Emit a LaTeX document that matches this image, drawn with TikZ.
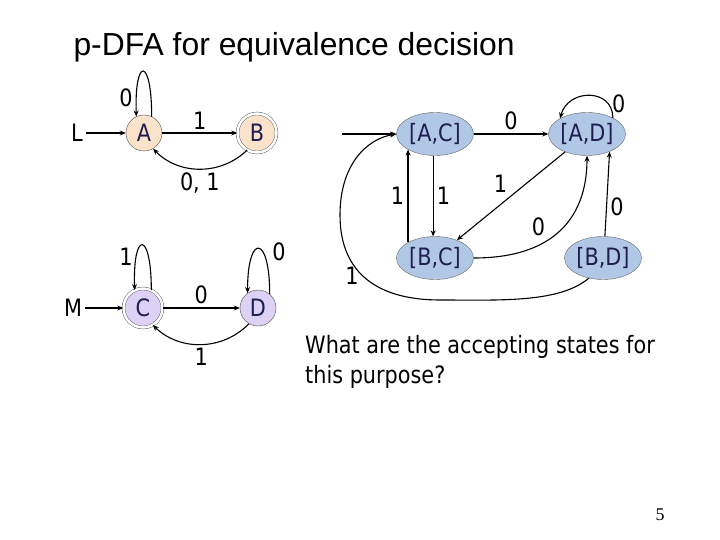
\documentclass[tikz,border=0pt]{standalone}
\usepackage{fontspec}
\setmainfont{DejaVu Sans}[FakeStretch=0.87]
\newfontfamily\titlefont{Liberation Sans}
\newfontfamily\pagefont{Liberation Serif}
\usetikzlibrary{arrows.meta, shapes.geometric}
\definecolor{peach}{RGB}{251,227,203}
\definecolor{lilac}{RGB}{221,209,245}
\definecolor{pairblue}{RGB}{176,200,230}
\definecolor{ink}{RGB}{30,30,80}
\tikzset{
  state/.style={circle, draw=black!70, thin, minimum size=36bp, inner sep=0pt, text=ink},
  accept/.style={state, double, double distance=2.5bp, minimum size=39bp},
  pair/.style={ellipse, draw=black!60, thin, fill=pairblue, minimum width=77bp, minimum height=43bp, inner sep=0pt, text=ink},
  trans/.style={-{Stealth[length=6bp,width=5bp]}, line width=1.1bp},
}

\begin{document}
\begin{tikzpicture}[x=1bp, y=1bp, font=\fontsize{24}{28}\selectfont]
\fill[white] (0,0) rectangle (720,-540);
\useasboundingbox (0,0) rectangle (720,-540);

\node[anchor=base west, font=\titlefont\fontsize{32}{36}\selectfont] (title) at (70,-56) {p-DFA for equivalence decision};

\node (L) at (77,-133) {L};
\node[state, fill=peach] (A) at (144,-133) {A};
\node[accept, fill=peach] (B) at (257,-133) {B};
\node (M) at (73,-308) {M};
\node[accept, fill=lilac] (C) at (143,-308) {C};
\node[state, fill=lilac] (D) at (258,-308) {D};

\foreach \nm/\lbl/\x/\y in {AC/{[A,C]}/435/-134, AD/{[A,D]}/587/-134, BC/{[B,C]}/435/-258, BD/{[B,D]}/603/-258}
  \node[pair] (\nm) at (\x,\y) {\lbl};
\coordinate (start) at (342,-134);

\draw[trans] (L) -- (A);
\draw[trans] (A) -- node[above] {1} (B);
\draw[trans] (A.65) .. controls +(0,60) and +(-2,60) .. node[pos=0.88, left] {0} (A.115);
\draw[trans] (B.240) to[bend left=45] node[below] {0, 1} (A.-60);

\draw[trans] (M) -- (C);
\draw[trans] (C) -- node[above] {0} (D);
\draw[trans] (C.65) .. controls +(0,60) and +(-2,60) .. node[pos=0.75, left] {1} (C.115);
\draw[trans] (D.50) .. controls +(0,60) and +(0,60) .. node[pos=0.38, right=6bp] {0} (D.125);
\draw[trans] (D.240) to[bend left=45] node[below] {1} (C.-60);

\draw[trans] (start) -- (AC);
\draw[trans] (AC) -- node[above] {0} (AD);
\draw[trans] (AD.32) .. controls +(0,30) and +(8,30) .. node[pos=0.2, right] {0} (AD.150);
\draw[trans] (AC.-95) -- node[right] {1} (BC.95);
\draw[trans] (BC.150) -- node[left] {1} (AC.210);
\draw[trans] (AD) -- node[above left] {1} (BC);
\draw[trans] (BC.east) .. controls +(82,0) and +(0,-60) .. node[pos=0.4, above left] {0} (AD.south);
\draw[trans] (BD.85) -- node[pos=0.35, right] {0} (AD.-38);
\draw[trans] (BD.235) .. controls +(-30,-25) and +(60,0) .. (440,-300)
  .. controls +(-60,0) and +(0,-60) .. node[pos=0.55, left] {1} (340,-215)
  .. controls +(0,50) and +(-30,-5) .. (AC.west);

\node[anchor=north west, inner sep=0pt, align=left, font=\fontsize{24}{30}\selectfont] (ask) at (305,-335) {What are the accepting states for\\this purpose?};
\node[font=\pagefont\fontsize{18}{20}\selectfont] (page) at (660,-515) {5};
\end{tikzpicture}
\end{document}
